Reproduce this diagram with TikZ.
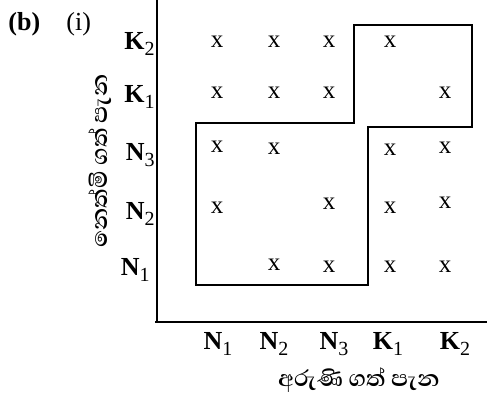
\documentclass[tikz,border=0pt]{standalone}
\usepackage{fontspec}
\setmainfont{Liberation Serif}
\newfontfamily\sinfont[Script=Sinhala]{Abhaya Libre}
\newcommand{\pen}[2]{\textbf{#1}\raisebox{-0.45ex}{\fontsize{10}{10}\selectfont #2}}
\begin{document}
\begin{tikzpicture}[x=0.5pt,y=-0.5pt,
  mk/.style={font=\fontsize{12.5}{12.5}\selectfont, inner sep=0},
  axlab/.style={font=\fontsize{13}{13}\selectfont, inner sep=0},
  sin/.style={font=\fontsize{14.5}{14.5}\selectfont\sinfont\bfseries, inner sep=0},
  axis/.style={line width=0.8pt},
  region/.style={line width=1pt}]
\useasboundingbox (0,0) rectangle (487,401);

% part labels
\node[font=\fontsize{13}{13}\selectfont\bfseries, anchor=west, inner sep=0] (partb) at (8,24) {(b)};
\node[font=\fontsize{13}{13}\selectfont, anchor=west, inner sep=0] (parti) at (66,24) {(i)};

% axes
\coordinate (o) at (157,322);
\coordinate (ytop) at (157,0);
\coordinate (xend) at (487,322);
\draw[axis] (ytop) -- (o);
\draw[axis] (155,322) -- (xend);

% row labels
\node[axlab, anchor=east] (rK2) at (155,44) {\pen{K}{2}};
\node[axlab, anchor=east] (rK1) at (155,97) {\pen{K}{1}};
\node[axlab, anchor=east] (rN3) at (155,155) {\pen{N}{3}};
\node[axlab, anchor=east] (rN2) at (155,214) {\pen{N}{2}};
\node[axlab, anchor=east] (rN1) at (150,270) {\pen{N}{1}};

% column labels
\node[axlab] (cN1) at (218,344) {\pen{N}{1}};
\node[axlab] (cN2) at (274,344) {\pen{N}{2}};
\node[axlab] (cN3) at (334,344) {\pen{N}{3}};
\node[axlab] (cK1) at (388,344) {\pen{K}{1}};
\node[axlab] (cK2) at (455,344) {\pen{K}{2}};

% axis titles
\node[sin] (xtitle) at (359,380) {අරුණි ගත් පැන};
\node[sin, rotate=90] (ytitle) at (100,161) {නෙත්මි ගත් පැන};

% marks: row K2
\node[mk] (m51) at (217,42) {x};
\node[mk] (m52) at (274,42) {x};
\node[mk] (m53) at (329,42) {x};
\node[mk] (m54) at (390,42) {x};
% row K1
\node[mk] (m41) at (217,93) {x};
\node[mk] (m42) at (274,93) {x};
\node[mk] (m43) at (329,93) {x};
\node[mk] (m45) at (445,93) {x};
% row N3
\node[mk] (m31) at (217,147) {x};
\node[mk] (m32) at (274,149) {x};
\node[mk] (m34) at (390,150) {x};
\node[mk] (m35) at (445,148) {x};
% row N2
\node[mk] (m21) at (217,208) {x};
\node[mk] (m23) at (329,204) {x};
\node[mk] (m24) at (390,208) {x};
\node[mk] (m25) at (445,203) {x};
% row N1
\node[mk] (m12) at (274,265) {x};
\node[mk] (m13) at (329,267) {x};
\node[mk] (m14) at (390,267) {x};
\node[mk] (m15) at (445,267) {x};

% enclosed region
\draw[region] (196,123) -- (354,123) -- (354,25) -- (472,25) -- (472,127)
  -- (368,127) -- (368,285) -- (196,285) -- cycle;
\end{tikzpicture}
\end{document}
